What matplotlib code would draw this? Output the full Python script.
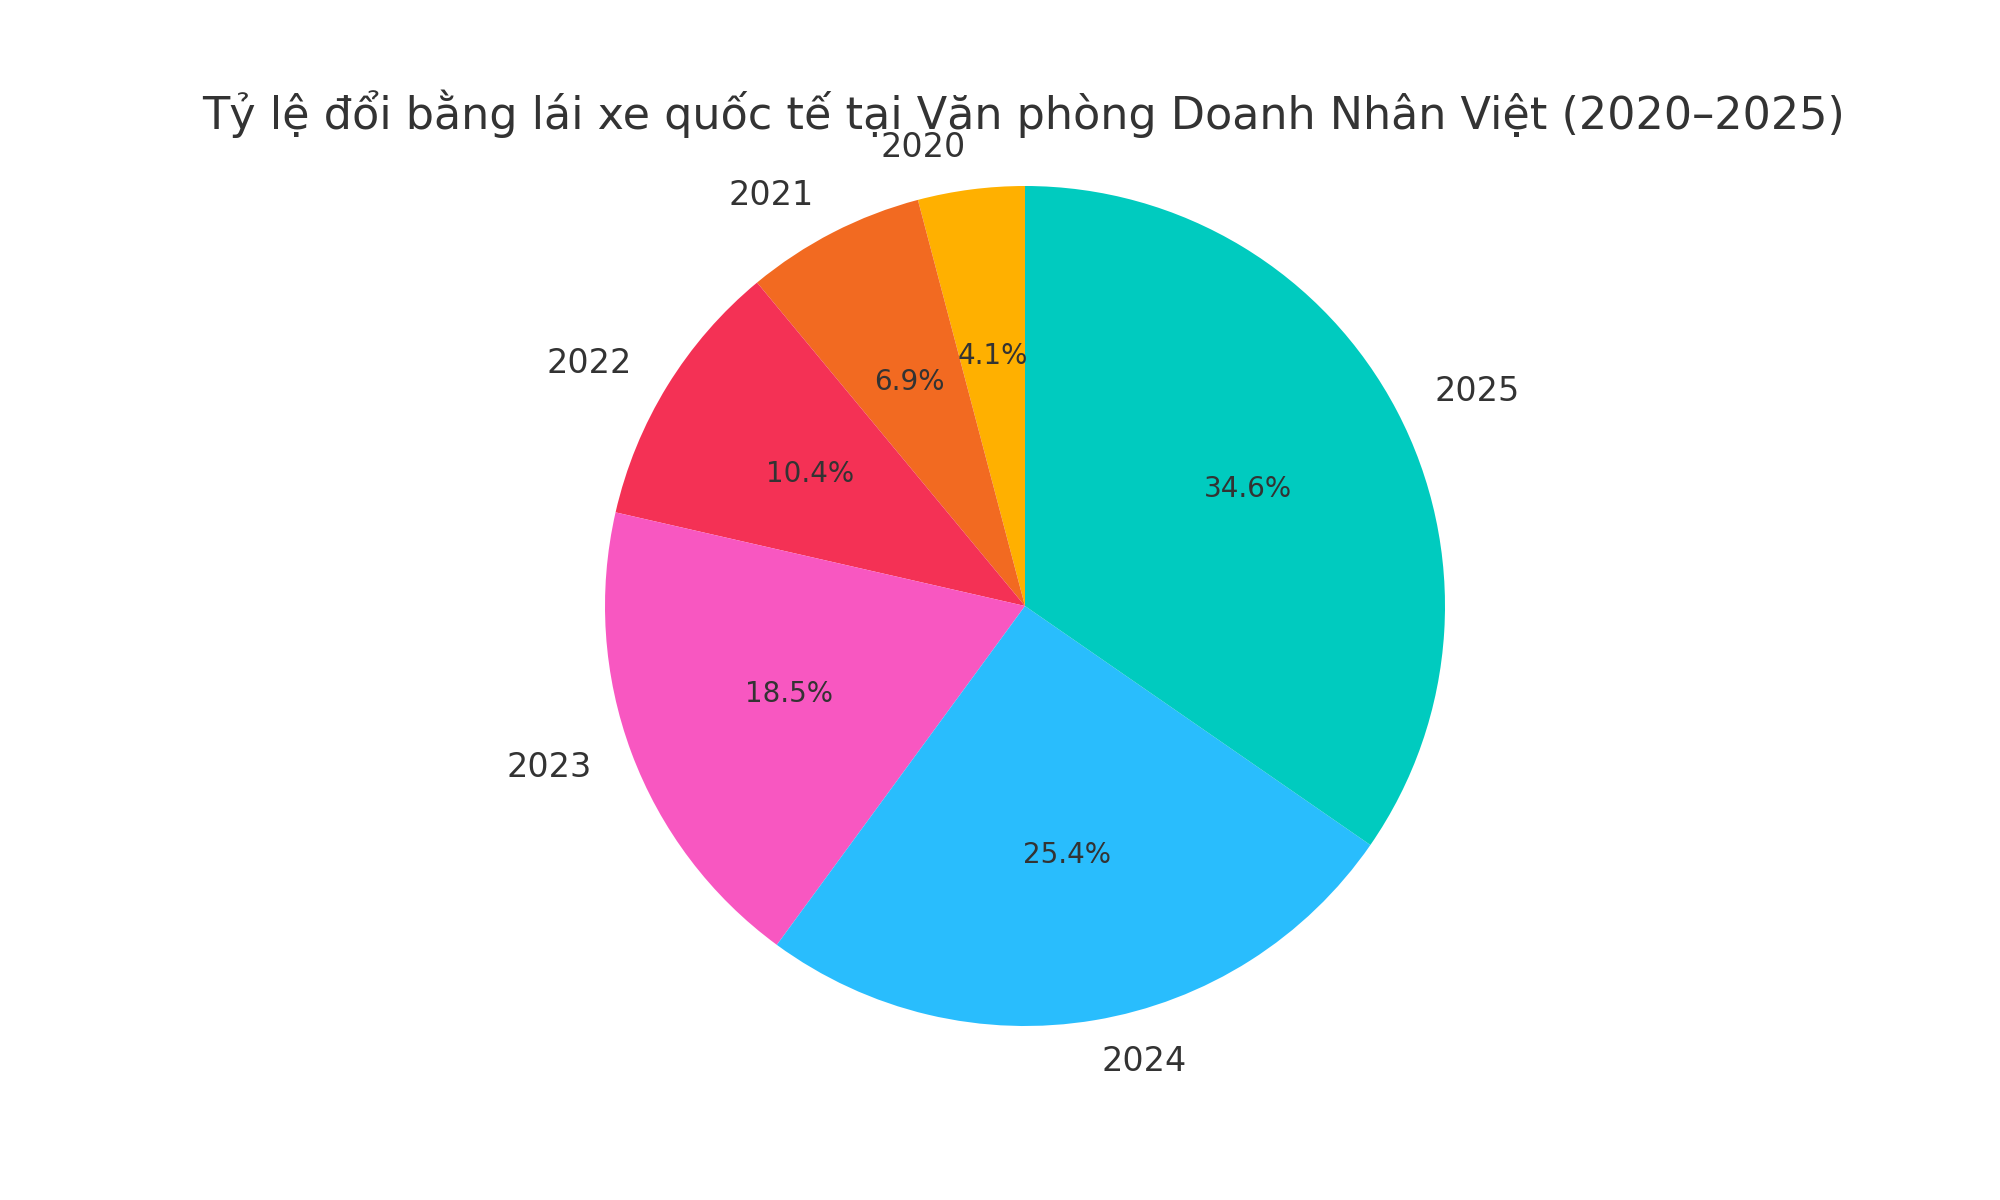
import matplotlib
matplotlib.use("Agg")
import matplotlib.pyplot as plt

years = ["2020", "2021", "2022", "2023", "2024", "2025"]
shares = [4.1, 6.9, 10.4, 18.5, 25.4, 34.6]
colors = ["#FFB000", "#F26A21", "#F43155", "#F857C1", "#29BDFD", "#00CBBF"]
title = "Tỷ lệ đổi bằng lái xe quốc tế tại Văn phòng Doanh Nhân Việt (2020–2025)"

plt.rcParams['font.family'] = ['DejaVu Sans']
text_color = "#333333"

fig = plt.figure(figsize=(10, 6), dpi=200)
ax = fig.add_axes([0.0, 0.0575, 1.025, 0.875])
wedges, texts, autotexts = ax.pie(
    shares, labels=years, colors=colors, startangle=90, counterclock=True,
    autopct="%1.1f%%", pctdistance=0.6, labeldistance=1.1,
    textprops={"color": text_color},
)
for t in texts:
    t.set_fontsize(12)
for t in autotexts:
    t.set_fontsize(10)
ax.set_aspect("equal")
fig.text(0.512, 0.905, title, ha="center", va="center", fontsize=16, color=text_color)
fig.savefig("out.png", dpi=200, facecolor="white")
